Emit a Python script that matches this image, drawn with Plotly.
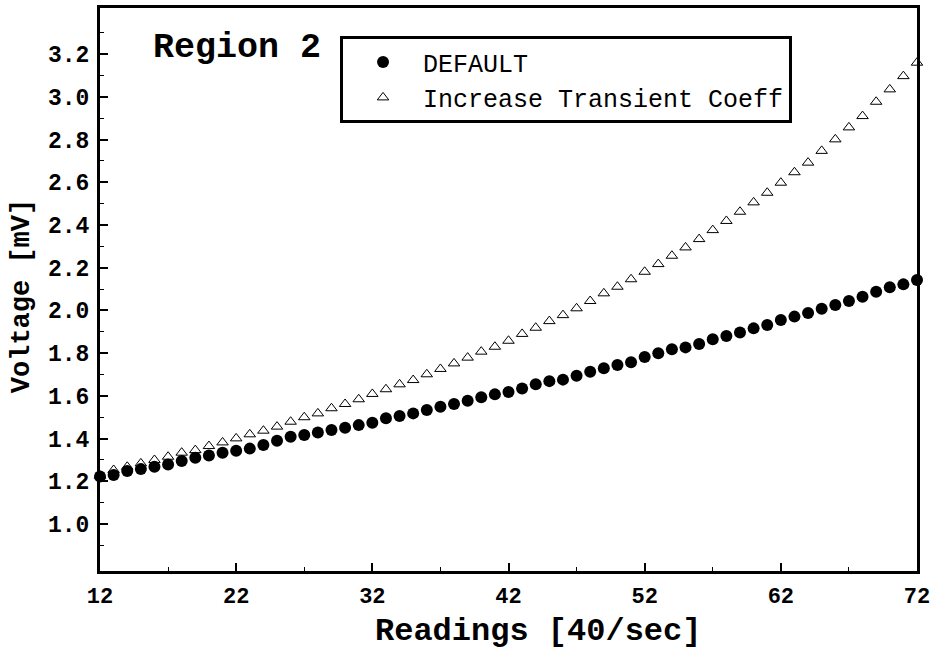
import plotly.graph_objects as go

readings = list(range(12, 73))

default_mv = [
    1.222, 1.229, 1.248, 1.257, 1.268, 1.279, 1.295, 1.310, 1.321, 1.334,
    1.343, 1.353, 1.370, 1.390, 1.409, 1.417, 1.428, 1.440, 1.451, 1.463,
    1.474, 1.495, 1.506, 1.518, 1.534, 1.549, 1.562, 1.577, 1.593, 1.607,
    1.618, 1.635, 1.654, 1.669, 1.676, 1.694, 1.713, 1.729, 1.744, 1.757,
    1.782, 1.799, 1.818, 1.827, 1.843, 1.865, 1.880, 1.897, 1.916, 1.932,
    1.955, 1.971, 1.988, 2.008, 2.025, 2.044, 2.064, 2.088, 2.108, 2.122,
    2.142,
]

transient_mv = [
    1.226, 1.253, 1.268, 1.284, 1.300, 1.315, 1.334, 1.346, 1.365, 1.382,
    1.401, 1.420, 1.437, 1.456, 1.479, 1.500, 1.518, 1.542, 1.562, 1.584,
    1.609, 1.631, 1.654, 1.674, 1.701, 1.726, 1.752, 1.779, 1.807, 1.830,
    1.858, 1.890, 1.919, 1.950, 1.978, 2.010, 2.044, 2.080, 2.111, 2.146,
    2.181, 2.217, 2.256, 2.295, 2.334, 2.376, 2.419, 2.462, 2.506, 2.551,
    2.598, 2.647, 2.692, 2.747, 2.801, 2.857, 2.910, 2.977, 3.035, 3.097,
    3.160,
]

x_ticks = [12, 22, 32, 42, 52, 62, 72]
x_minor = [17, 27, 37, 47, 57, 67]
y_ticks = [1.0, 1.2, 1.4, 1.6, 1.8, 2.0, 2.2, 2.4, 2.6, 2.8, 3.0, 3.2]
y_minor = [0.9, 1.1, 1.3, 1.5, 1.7, 1.9, 2.1, 2.3, 2.5, 2.7, 2.9, 3.1, 3.3]

FONT = "Courier New, Liberation Mono, monospace"

fig = go.Figure()
fig.add_trace(go.Scatter(
    x=readings, y=transient_mv, mode="markers", name="Increase Transient Coeff",
    legendrank=2,
    marker=dict(symbol="triangle-up-open", size=10, color="black", line=dict(width=1, color="black")),
    cliponaxis=False,
))
fig.add_trace(go.Scatter(
    x=readings, y=default_mv, mode="markers", name="DEFAULT",
    legendrank=1,
    marker=dict(symbol="circle", size=12, color="black"),
    cliponaxis=False,
))

fig.update_layout(
    width=931, height=653,
    margin=dict(l=100, r=14, t=8, b=82, autoexpand=False),
    paper_bgcolor="white", plot_bgcolor="white",
    font=dict(family=FONT, color="black"),
    showlegend=True,
    legend=dict(
        x=0.2938, y=0.950, xanchor="left", yanchor="top",
        bgcolor="white", bordercolor="black", borderwidth=3,
        font=dict(family=FONT, size=25, color="black"),
        itemwidth=70,
    ),
    annotations=[
        dict(
            text="<b>Region 2</b>", x=0.062, y=0.929, xref="paper", yref="paper",
            xanchor="left", yanchor="middle", showarrow=False,
            font=dict(family=FONT, size=35, color="black"),
        ),
        dict(
            text="<b>Readings [40/sec]</b>", x=0.536, y=-0.1083, xref="paper", yref="paper",
            xanchor="center", yanchor="middle", showarrow=False,
            font=dict(family=FONT, size=32, color="black"),
        ),
        dict(
            text="<b>Voltage [mV]</b>", x=-0.0955, y=0.488, xref="paper", yref="paper",
            xanchor="center", yanchor="middle", showarrow=False, textangle=-90,
            font=dict(family=FONT, size=27, color="black"),
        ),
    ],
)

fig.update_xaxes(
    range=[12, 72], tickmode="array", tickvals=x_ticks, automargin=False,
    ticks="inside", ticklen=8, tickwidth=1.5, tickcolor="black",
    minor=dict(tickmode="array", tickvals=x_minor, ticks="inside", ticklen=4, tickwidth=1, tickcolor="black"),
    showline=True, linewidth=3, linecolor="black", mirror=True,
    showgrid=False, zeroline=False, ticklabelstandoff=3,
    tickfont=dict(family=FONT, size=22, color="black", weight="bold"),
)
fig.update_yaxes(
    range=[0.78, 3.416], tickmode="array", tickvals=y_ticks, tickformat=".1f", automargin=False,
    ticks="inside", ticklen=8, tickwidth=1.5, tickcolor="black",
    minor=dict(tickmode="array", tickvals=y_minor, ticks="inside", ticklen=4, tickwidth=1, tickcolor="black"),
    showline=True, linewidth=3, linecolor="black", mirror=True,
    showgrid=False, zeroline=False, ticklabelstandoff=3,
    tickfont=dict(family=FONT, size=23, color="black", weight="bold"),
)

fig.write_html("out.html")
